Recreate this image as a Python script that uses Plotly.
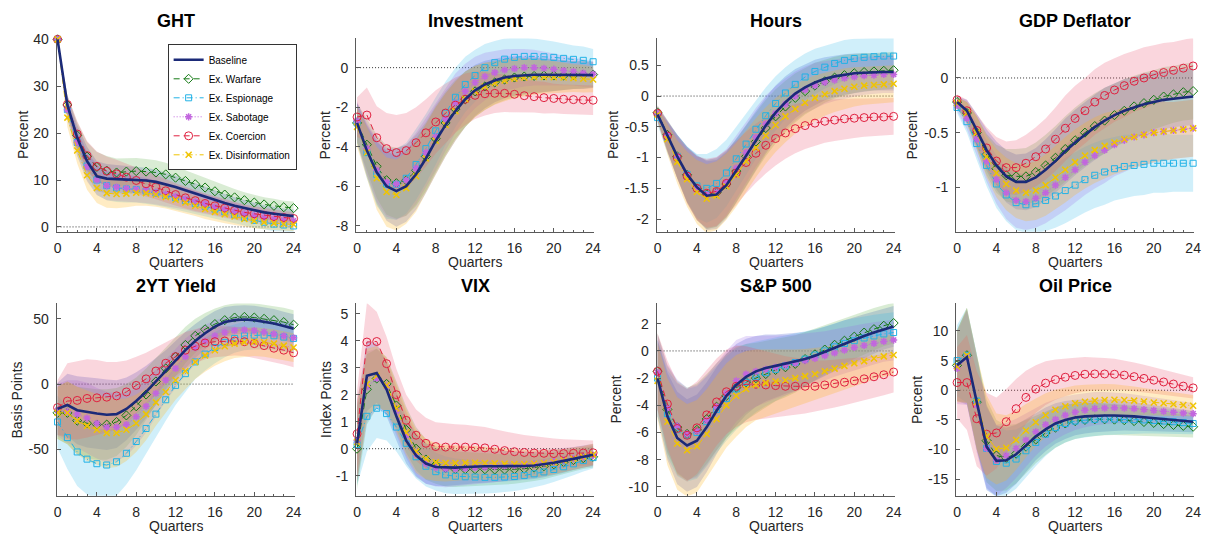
import plotly.graph_objects as go

# ---------------- data ----------------
Q = list(range(25))
SERIES = ["Baseline", "Ex. Warfare", "Ex. Espionage", "Ex. Sabotage", "Ex. Coercion", "Ex. Disinformation"]
X_TICKS = [0, 4, 8, 12, 16, 20, 24]

# GHT
ght_baseline = [40, 26, 19, 14, 10.8, 10.3, 10.2, 10.1, 10.0, 9.9, 9.6, 9.1, 8.5, 7.8, 7.1, 6.4, 5.7, 5.1, 4.5, 4.0, 3.5, 3.1, 2.8, 2.5, 2.3]
ght_warfare = [40, 26, 19.5, 15, 12.8, 12, 11.6, 11.8, 11.9, 11.8, 11.6, 11.2, 10.5, 9.8, 9.1, 8.4, 7.6, 6.9, 6.3, 5.7, 5.2, 4.8, 4.5, 4.2, 4.0]
ght_espionage = [40, 25, 18, 13, 10, 8.8, 8.3, 8.1, 8.0, 7.6, 7.2, 6.7, 6.2, 5.6, 5.0, 4.4, 3.8, 3.2, 2.6, 2.0, 1.4, 1.0, 0.6, 0.4, 0.2]
ght_sabotage = [40, 25, 18, 12.8, 10, 8.8, 8.5, 8.2, 8.0, 7.8, 7.4, 7.0, 6.5, 6.0, 5.4, 4.9, 4.3, 3.8, 3.3, 2.8, 2.4, 2.0, 1.7, 1.5, 1.3]
ght_coercion = [40, 26.1, 19.8, 15.2, 12.9, 11.9, 11.3, 10.6, 9.9, 9.2, 8.5, 7.7, 6.9, 6.2, 5.6, 5.0, 4.5, 4.0, 3.5, 3.1, 2.8, 2.5, 2.2, 2.0, 1.8]
ght_disinformation = [40, 23.3, 16.3, 11, 8.3, 7.2, 7.0, 7.1, 7.3, 7.2, 6.9, 6.4, 5.8, 5.2, 4.5, 3.8, 3.2, 2.7, 2.2, 1.7, 1.3, 1.0, 0.8, 0.6, 0.5]
ght_band = [0, 2.0, 2.8, 3.1, 3.2, 3.1, 3.0, 2.9, 2.8, 2.7, 2.6, 2.5, 2.4, 2.3, 2.2, 2.1, 2.0, 1.9, 1.8, 1.7, 1.6, 1.5, 1.5, 1.4, 1.4]

# Investment
inv_baseline = [-2.8, -4.2, -5.3, -6.0, -6.25, -6.0, -5.4, -4.6, -3.7, -2.9, -2.2, -1.6, -1.15, -0.85, -0.65, -0.5, -0.42, -0.38, -0.36, -0.36, -0.37, -0.38, -0.38, -0.38, -0.38]
inv_warfare = [-2.8, -3.9, -5.0, -5.7, -5.85, -5.7, -5.2, -4.5, -3.6, -2.8, -2.1, -1.6, -1.2, -0.95, -0.75, -0.6, -0.5, -0.45, -0.42, -0.4, -0.4, -0.4, -0.38, -0.36, -0.35]
inv_espionage = [-2.8, -4.3, -5.4, -5.9, -5.9, -5.6, -4.9, -4.1, -3.2, -2.3, -1.5, -0.85, -0.4, 0.0, 0.25, 0.43, 0.52, 0.57, 0.57, 0.55, 0.52, 0.47, 0.42, 0.37, 0.3]
inv_sabotage = [-2.7, -4.1, -5.2, -5.8, -5.9, -5.7, -5.1, -4.3, -3.5, -2.6, -1.8, -1.2, -0.75, -0.45, -0.25, -0.12, -0.05, 0.0, 0.0, -0.03, -0.08, -0.15, -0.2, -0.27, -0.33]
inv_coercion = [-2.5, -2.4, -3.55, -4.1, -4.3, -4.2, -3.8, -3.3, -2.75, -2.3, -1.9, -1.6, -1.4, -1.32, -1.3, -1.3, -1.35, -1.42, -1.47, -1.52, -1.56, -1.6, -1.62, -1.64, -1.65]
inv_disinformation = [-3.0, -4.3, -5.6, -6.3, -6.45, -6.1, -5.5, -4.6, -3.7, -2.9, -2.2, -1.6, -1.2, -0.95, -0.78, -0.65, -0.55, -0.5, -0.47, -0.47, -0.48, -0.5, -0.53, -0.56, -0.6]
inv_band = [1.0, 1.3, 1.6, 1.75, 1.8, 1.8, 1.8, 1.75, 1.7, 1.6, 1.5, 1.4, 1.3, 1.2, 1.1, 1.05, 1.0, 0.95, 0.9, 0.85, 0.8, 0.75, 0.7, 0.7, 0.65]
inv_band_coercion = [1.0, 1.4, 1.6, 1.8, 1.9, 1.9, 1.8, 1.7, 1.6, 1.5, 1.4, 1.3, 1.2, 1.1, 1.0, 0.95, 0.9, 0.85, 0.8, 0.8, 0.75, 0.75, 0.75, 0.75, 0.75]

# Hours
hrs_baseline = [-0.3, -0.65, -0.98, -1.27, -1.48, -1.62, -1.6, -1.45, -1.22, -0.97, -0.72, -0.48, -0.27, -0.1, 0.04, 0.14, 0.22, 0.28, 0.32, 0.35, 0.37, 0.38, 0.39, 0.39, 0.39]
hrs_warfare = [-0.27, -0.63, -0.98, -1.28, -1.5, -1.6, -1.57, -1.43, -1.22, -0.98, -0.74, -0.52, -0.33, -0.17, -0.03, 0.08, 0.17, 0.24, 0.3, 0.34, 0.37, 0.39, 0.4, 0.41, 0.42]
hrs_espionage = [-0.35, -0.67, -0.98, -1.27, -1.46, -1.5, -1.42, -1.25, -1.02, -0.78, -0.54, -0.32, -0.12, 0.05, 0.19, 0.31, 0.4, 0.47, 0.53, 0.58, 0.61, 0.63, 0.64, 0.65, 0.65]
hrs_sabotage = [-0.28, -0.64, -0.98, -1.28, -1.5, -1.6, -1.56, -1.4, -1.17, -0.92, -0.67, -0.45, -0.28, -0.13, 0.0, 0.1, 0.17, 0.22, 0.26, 0.29, 0.31, 0.33, 0.34, 0.35, 0.35]
hrs_coercion = [-0.28, -0.65, -1.0, -1.3, -1.5, -1.58, -1.55, -1.42, -1.25, -1.08, -0.93, -0.8, -0.69, -0.6, -0.53, -0.48, -0.44, -0.41, -0.39, -0.37, -0.36, -0.35, -0.34, -0.34, -0.33]
hrs_disinformation = [-0.3, -0.7, -1.07, -1.35, -1.56, -1.67, -1.62, -1.47, -1.28, -1.06, -0.84, -0.64, -0.47, -0.33, -0.21, -0.11, -0.03, 0.03, 0.08, 0.12, 0.15, 0.17, 0.18, 0.19, 0.2]
hrs_band = [0.12, 0.25, 0.35, 0.45, 0.52, 0.56, 0.56, 0.54, 0.52, 0.5, 0.48, 0.46, 0.44, 0.42, 0.4, 0.38, 0.37, 0.35, 0.34, 0.33, 0.32, 0.31, 0.3, 0.3, 0.3]

# GDP Deflator
gdp_baseline = [-0.22, -0.3, -0.48, -0.66, -0.8, -0.9, -0.95, -0.95, -0.91, -0.84, -0.76, -0.67, -0.59, -0.52, -0.45, -0.39, -0.34, -0.3, -0.27, -0.24, -0.22, -0.2, -0.19, -0.18, -0.17]
gdp_warfare = [-0.22, -0.32, -0.5, -0.7, -0.83, -0.89, -0.9, -0.9, -0.86, -0.8, -0.73, -0.65, -0.57, -0.5, -0.44, -0.39, -0.34, -0.3, -0.26, -0.23, -0.2, -0.17, -0.15, -0.13, -0.12]
gdp_espionage = [-0.27, -0.4, -0.6, -0.8, -0.97, -1.07, -1.14, -1.16, -1.15, -1.12, -1.08, -1.03, -0.98, -0.93, -0.89, -0.86, -0.83, -0.81, -0.8, -0.79, -0.78, -0.78, -0.78, -0.78, -0.78]
gdp_sabotage = [-0.25, -0.37, -0.56, -0.76, -0.93, -1.05, -1.12, -1.13, -1.1, -1.05, -0.98, -0.91, -0.84, -0.77, -0.71, -0.66, -0.61, -0.57, -0.54, -0.52, -0.5, -0.49, -0.48, -0.47, -0.46]
gdp_coercion = [-0.2, -0.3, -0.48, -0.64, -0.76, -0.82, -0.82, -0.78, -0.72, -0.65, -0.56, -0.46, -0.37, -0.3, -0.22, -0.16, -0.11, -0.07, -0.03, 0.0, 0.03, 0.05, 0.07, 0.09, 0.11]
gdp_disinformation = [-0.23, -0.32, -0.5, -0.72, -0.87, -0.97, -1.03, -1.05, -1.03, -0.98, -0.91, -0.84, -0.77, -0.71, -0.66, -0.62, -0.59, -0.56, -0.54, -0.52, -0.5, -0.49, -0.48, -0.47, -0.46]
gdp_band = [0.05, 0.1, 0.15, 0.19, 0.22, 0.24, 0.25, 0.26, 0.27, 0.28, 0.29, 0.3, 0.3, 0.3, 0.3, 0.3, 0.29, 0.29, 0.28, 0.28, 0.27, 0.27, 0.26, 0.26, 0.26]

# 2YT Yield
yld_baseline = [-19, -16, -20, -21.5, -22.5, -23.5, -23, -19, -13, -6, 2, 10, 18, 26, 33, 39, 44, 47.5, 49, 49.5, 49, 48, 46.5, 44.5, 42.5]
yld_warfare = [-22, -22, -28, -30, -31, -31, -29, -24, -17, -8, 2, 12, 21, 30, 37, 42, 46, 49, 51, 51.5, 51, 50, 49, 47.5, 45.5]
yld_espionage = [-29, -41, -52, -57.5, -61, -62, -59.5, -53, -44, -34, -23, -12, -1, 8, 17, 23, 28, 32, 35, 37, 37.5, 37.5, 37, 36, 35]
yld_sabotage = [-20, -21, -23, -26, -30, -33, -33, -31, -25, -17, -7, 3, 12, 21, 28, 33, 37, 39.5, 41, 41.5, 41, 40, 38.5, 37, 35.5]
yld_coercion = [-18, -13, -12.5, -11, -10.5, -10, -9, -6, -1, 4, 10, 16, 21, 26, 29, 31.5, 32.5, 33, 33, 32.5, 31, 29.5, 27.5, 26, 24]
yld_disinformation = [-22, -22, -28, -32, -35, -37.5, -37.5, -35, -30, -23, -14, -6, 3, 10, 17, 22, 26, 29, 31, 32, 32.5, 32, 31, 29.5, 28]
yld_band = [20, 24, 26, 27, 27, 27, 26, 24, 22, 20, 18, 16, 15, 14, 13, 12.5, 12, 11.5, 11, 11, 11, 11, 11, 11, 11]
yld_band_coercion = [21, 29, 30, 30, 29, 27, 26, 24, 22, 20, 18, 16, 15, 14, 13, 12.5, 12, 11.5, 11, 11, 11, 11, 11, 11, 11]

# VIX
vix_baseline = [0.2, 2.7, 2.8, 2.2, 1.2, 0.3, -0.25, -0.55, -0.68, -0.7, -0.7, -0.68, -0.66, -0.65, -0.65, -0.65, -0.65, -0.64, -0.62, -0.58, -0.52, -0.45, -0.37, -0.3, -0.22]
vix_warfare = [0.0, 2.2, 2.6, 2.4, 1.6, 0.7, 0.0, -0.4, -0.6, -0.72, -0.76, -0.76, -0.76, -0.76, -0.77, -0.77, -0.76, -0.74, -0.7, -0.65, -0.58, -0.5, -0.42, -0.35, -0.3]
vix_espionage = [0.15, 1.2, 1.5, 1.3, 0.8, 0.2, -0.3, -0.65, -0.85, -0.97, -1.02, -1.04, -1.05, -1.06, -1.06, -1.05, -1.03, -0.99, -0.93, -0.86, -0.77, -0.67, -0.56, -0.44, -0.33]
vix_sabotage = [0.3, 2.3, 2.6, 2.3, 1.4, 0.5, -0.2, -0.55, -0.7, -0.75, -0.75, -0.73, -0.7, -0.68, -0.66, -0.64, -0.62, -0.6, -0.57, -0.53, -0.48, -0.42, -0.36, -0.3, -0.25]
vix_coercion = [0.55, 3.95, 3.97, 3.15, 2.0, 1.05, 0.5, 0.2, 0.08, 0.06, 0.06, 0.06, 0.05, 0.03, -0.02, -0.07, -0.11, -0.14, -0.16, -0.17, -0.18, -0.18, -0.17, -0.16, -0.15]
vix_disinformation = [0.25, 2.4, 2.7, 2.35, 1.5, 0.6, -0.1, -0.38, -0.5, -0.53, -0.53, -0.52, -0.52, -0.53, -0.54, -0.56, -0.57, -0.57, -0.56, -0.53, -0.49, -0.44, -0.37, -0.3, -0.22]
vix_band = [1.5, 1.3, 1.1, 1.0, 0.9, 0.85, 0.8, 0.75, 0.7, 0.68, 0.66, 0.64, 0.62, 0.6, 0.58, 0.56, 0.54, 0.52, 0.5, 0.48, 0.46, 0.44, 0.42, 0.4, 0.4]
vix_band_coercion = [1.6, 1.45, 1.1, 1.0, 0.95, 0.95, 0.95, 0.95, 0.9, 0.88, 0.85, 0.83, 0.8, 0.77, 0.74, 0.71, 0.68, 0.65, 0.62, 0.59, 0.56, 0.53, 0.5, 0.47, 0.45]

# S&P 500
spx_baseline = [-2.0, -4.8, -6.4, -6.95, -6.6, -5.6, -4.4, -3.3, -2.5, -1.9, -1.5, -1.25, -1.1, -0.95, -0.8, -0.6, -0.35, -0.05, 0.25, 0.55, 0.85, 1.1, 1.35, 1.6, 1.8]
spx_warfare = [-1.5, -4.3, -5.6, -6.1, -5.8, -5.0, -4.1, -3.3, -2.7, -2.3, -2.0, -1.7, -1.4, -1.2, -0.95, -0.6, -0.25, 0.1, 0.45, 0.75, 1.05, 1.35, 1.6, 1.85, 2.05]
spx_espionage = [-2.0, -4.6, -5.8, -6.2, -6.0, -5.2, -4.3, -3.5, -2.8, -2.3, -1.9, -1.6, -1.35, -1.1, -0.85, -0.6, -0.3, 0.0, 0.3, 0.55, 0.75, 0.95, 1.1, 1.25, 1.35]
spx_sabotage = [-1.6, -4.2, -5.5, -6.1, -5.9, -5.1, -4.1, -3.1, -2.2, -1.7, -1.5, -1.35, -1.2, -1.05, -0.9, -0.72, -0.55, -0.35, -0.15, 0.05, 0.25, 0.4, 0.55, 0.7, 0.8]
spx_coercion = [-1.5, -3.9, -5.7, -6.2, -5.65, -4.7, -3.75, -3.0, -2.6, -2.45, -2.45, -2.5, -2.55, -2.6, -2.6, -2.6, -2.6, -2.5, -2.4, -2.3, -2.2, -2.05, -1.9, -1.75, -1.55]
spx_disinformation = [-2.2, -5.2, -6.8, -7.3, -7.0, -6.1, -5.0, -4.0, -3.3, -2.8, -2.5, -2.35, -2.25, -2.15, -2.0, -1.85, -1.7, -1.5, -1.3, -1.1, -0.9, -0.75, -0.55, -0.4, -0.3]
spx_band = [2.8, 3.2, 3.4, 3.4, 3.4, 3.3, 3.2, 3.1, 3.0, 2.8, 2.6, 2.45, 2.3, 2.2, 2.1, 2.0, 1.9, 1.8, 1.75, 1.7, 1.65, 1.6, 1.55, 1.5, 1.5]

# Oil Price
oil_baseline = [4.2, 5.6, -2.0, -9.5, -11.9, -11.8, -10.8, -9.3, -7.8, -6.6, -5.6, -5.0, -4.6, -4.4, -4.3, -4.25, -4.25, -4.3, -4.4, -4.55, -4.7, -4.85, -5.0, -5.15, -5.3]
oil_warfare = [4.2, 5.9, -2.0, -8.5, -11.0, -11.4, -10.7, -9.5, -8.3, -7.2, -6.3, -5.6, -5.2, -5.0, -4.9, -4.9, -4.95, -5.05, -5.2, -5.35, -5.5, -5.7, -5.85, -6.0, -6.15]
oil_espionage = [5.0, 5.9, -1.8, -9.8, -12.0, -12.3, -11.6, -10.2, -8.8, -7.4, -6.3, -5.6, -5.2, -5.0, -4.9, -4.85, -4.85, -4.9, -4.95, -5.0, -5.1, -5.2, -5.3, -5.45, -5.6]
oil_sabotage = [3.7, 5.5, -2.5, -9.8, -11.8, -11.0, -9.8, -8.4, -7.0, -5.8, -4.9, -4.2, -3.7, -3.35, -3.1, -3.0, -2.95, -3.0, -3.1, -3.25, -3.4, -3.55, -3.7, -3.85, -3.95]
oil_coercion = [1.3, 1.3, -4.8, -7.4, -7.2, -5.3, -3.1, -1.2, 0.2, 1.2, 1.8, 2.2, 2.5, 2.7, 2.75, 2.75, 2.7, 2.55, 2.3, 2.0, 1.7, 1.4, 1.05, 0.7, 0.4]
oil_disinformation = [4.0, 5.9, -2.0, -7.8, -9.9, -9.7, -8.4, -6.8, -5.4, -4.2, -3.3, -2.7, -2.2, -1.95, -1.75, -1.65, -1.6, -1.65, -1.75, -1.9, -2.05, -2.2, -2.35, -2.5, -2.6]
oil_band = [6.0, 8.0, 8.0, 7.0, 6.0, 5.5, 5.0, 4.5, 4.0, 3.7, 3.4, 3.2, 3.0, 2.9, 2.8, 2.7, 2.6, 2.5, 2.4, 2.3, 2.2, 2.1, 2.0, 1.9, 1.8]

# y tick values per panel
ght_yticks = [0, 10, 20, 30, 40]
inv_yticks = [-8, -6, -4, -2, 0]
hrs_yticks = [-2, -1.5, -1, -0.5, 0, 0.5]
gdp_yticks = [-1, -0.5, 0]
yld_yticks = [-50, 0, 50]
vix_yticks = [-1, 0, 1, 2, 3, 4, 5]
spx_yticks = [-10, -8, -6, -4, -2, 0, 2]
oil_yticks = [-15, -10, -5, 0, 5, 10]

PANELS = [
    dict(title="GHT", ytitle="Percent", yr=[-1.04, 40.2], yt=ght_yticks,
         lines=[ght_baseline, ght_warfare, ght_espionage, ght_sabotage, ght_coercion, ght_disinformation],
         bands=[ght_band] * 6, ytx=20),
    dict(title="Investment", ytitle="Percent", yr=[-8.31, 1.48], yt=inv_yticks,
         lines=[inv_baseline, inv_warfare, inv_espionage, inv_sabotage, inv_coercion, inv_disinformation],
         bands=[inv_band, inv_band, inv_band, inv_band, inv_band_coercion, inv_band], ytx=325),
    dict(title="Hours", ytitle="Percent", yr=[-2.206, 0.937], yt=hrs_yticks,
         lines=[hrs_baseline, hrs_warfare, hrs_espionage, hrs_sabotage, hrs_coercion, hrs_disinformation],
         bands=[hrs_band] * 6, ytx=615),
    dict(title="GDP Deflator", ytitle="Percent", yr=[-1.407, 0.362], yt=gdp_yticks,
         lines=[gdp_baseline, gdp_warfare, gdp_espionage, gdp_sabotage, gdp_coercion, gdp_disinformation],
         bands=[gdp_band] * 6, ytx=917),
    dict(title="2YT Yield", ytitle="Basis Points", yr=[-85.6, 61.8], yt=yld_yticks,
         lines=[yld_baseline, yld_warfare, yld_espionage, yld_sabotage, yld_coercion, yld_disinformation],
         bands=[yld_band, yld_band, yld_band, yld_band, yld_band_coercion, yld_band], ytx=14),
    dict(title="VIX", ytitle="Index Points", yr=[-1.745, 5.38], yt=vix_yticks,
         lines=[vix_baseline, vix_warfare, vix_espionage, vix_sabotage, vix_coercion, vix_disinformation],
         bands=[vix_band, vix_band, vix_band, vix_band, vix_band_coercion, vix_band], ytx=325),
    dict(title="S&P 500", ytitle="Percent", yr=[-10.65, 3.49], yt=spx_yticks,
         lines=[spx_baseline, spx_warfare, spx_espionage, spx_sabotage, spx_coercion, spx_disinformation],
         bands=[spx_band] * 6, ytx=618),
    dict(title="Oil Price", ytitle="Percent", yr=[-17.8, 14.64], yt=oil_yticks,
         lines=[oil_baseline, oil_warfare, oil_espionage, oil_sabotage, oil_coercion, oil_disinformation],
         bands=[oil_band] * 6, ytx=921),
]

# ---------------- styles ----------------
W, H = 1216, 543
FONT = "Liberation Sans, Arial, sans-serif"
AX = "#5a5a5a"
TXT = "#262626"
COL_X = [(54, 294), (356, 596), (659, 899), (961, 1201)]
ROW_Y = [(32, 229), (302, 498)]

STYLE = {
    "Baseline":           dict(color="#1b2a78", dash="solid", width=2.6, symbol=None, size=0, band="rgba(60,80,205,0.24)"),
    "Ex. Warfare":        dict(color="#147a14", dash="6px,4px", width=1, symbol="diamond-open", size=7, band="rgba(80,170,60,0.22)"),
    "Ex. Espionage":      dict(color="#22b2e6", dash="6px,3px,1px,3px", width=1, symbol="square-open", size=6, band="rgba(40,180,230,0.22)"),
    "Ex. Sabotage":       dict(color="#c266de", dash="1px,2px", width=1, symbol="asterisk-open", size=6, band="rgba(150,100,230,0.22)"),
    "Ex. Coercion":       dict(color="#e0203f", dash="6px,4px", width=1, symbol="circle-open", size=8, band="rgba(232,70,100,0.22)"),
    "Ex. Disinformation": dict(color="#f0c400", dash="6px,3px,1px,3px", width=1, symbol="x-thin-open", size=6, band="rgba(255,180,20,0.25)"),
}

fig = go.Figure()
layout = dict(width=W, height=H, margin=dict(l=0, r=0, t=0, b=0),
              paper_bgcolor="white", plot_bgcolor="white",
              font=dict(family=FONT, color=TXT), showlegend=True)
annotations = []
shapes = []

for i, p in enumerate(PANELS):
    r, c = divmod(i, 4)
    n = "" if i == 0 else str(i + 1)
    xref, yref = "x" + n, "y" + n
    x0, x1 = COL_X[c]
    ytop, ybot = ROW_Y[r]
    layout["xaxis" + n] = dict(
        domain=[x0 / W, x1 / W], anchor=yref, range=[-0.1, 24.1],
        tickvals=X_TICKS, ticktext=[str(v) for v in X_TICKS],
        ticks="inside", ticklen=4, tickcolor=AX, showline=True, linecolor=AX, linewidth=1,
        showgrid=False, zeroline=False, fixedrange=True,
        minor=dict(tick0=0, dtick=1, ticks="inside", ticklen=2, tickcolor=AX, showgrid=False),
        tickfont=dict(size=14, color=TXT, family=FONT), ticklabelstandoff=3)
    layout["yaxis" + n] = dict(
        domain=[1 - ybot / H, 1 - ytop / H], anchor=xref, range=p["yr"],
        tickvals=p["yt"], ticktext=["%g" % v for v in p["yt"]],
        ticks="inside", ticklen=4, tickcolor=AX, showline=True, linecolor=AX, linewidth=1,
        showgrid=False, zeroline=False, fixedrange=True,
        tickfont=dict(size=14, color=TXT, family=FONT), ticklabelstandoff=4)

    # bands
    for s, line, band in zip(SERIES, p["lines"], p["bands"]):
        upper = [v + b for v, b in zip(line, band)]
        lower = [v - b for v, b in zip(line, band)]
        fig.add_trace(go.Scatter(x=Q + Q[::-1], y=upper + lower[::-1], fill="toself",
                                 fillcolor=STYLE[s]["band"], line=dict(width=0),
                                 mode="lines", hoverinfo="skip", showlegend=False,
                                 xaxis=xref, yaxis=yref))
    # lines (baseline last, on top)
    order = [1, 2, 3, 4, 5, 0]
    for k in order:
        s = SERIES[k]
        st = STYLE[s]
        if st["symbol"] is None:
            tr = go.Scatter(x=Q, y=p["lines"][k], mode="lines", name=s,
                            line=dict(color=st["color"], width=st["width"]))
        else:
            tr = go.Scatter(x=Q, y=p["lines"][k], mode="lines+markers", name=s,
                            line=dict(color=st["color"], width=st["width"], dash=st["dash"]),
                            marker=dict(symbol=st["symbol"], size=st["size"], color=st["color"],
                                        line=dict(color=st["color"], width=1.5 if "asterisk" in st["symbol"] or "x-thin" in st["symbol"] else 1)))
        tr.update(xaxis=xref, yaxis=yref, showlegend=(i == 0), legendrank=k + 1,
                  cliponaxis=False, legendgroup=s)
        fig.add_trace(tr)

    # zero reference line
    shapes.append(dict(type="line", xref=xref, yref=yref, x0=0, x1=24, y0=0, y1=0,
                       line=dict(color="#333333", width=1, dash="1px,2px"), layer="below"))

    xc = (x0 + x1) / 2
    annotations.append(dict(text="<b>%s</b>" % p["title"].replace("&", "&amp;"), x=xc / W, y=1 - (ytop - 17.5) / H,
                            xref="paper", yref="paper", showarrow=False, xanchor="center", yanchor="middle",
                            font=dict(size=18, color="black", family=FONT)))
    annotations.append(dict(text="Quarters", x=xc / W, y=1 - (ybot + 31) / H,
                            xref="paper", yref="paper", showarrow=False, xanchor="center", yanchor="middle",
                            font=dict(size=14, color=TXT, family=FONT)))
    annotations.append(dict(text=p["ytitle"], x=p["ytx"] / W, y=1 - ((ytop + ybot) / 2) / H,
                            xref="paper", yref="paper", showarrow=False, xanchor="center", yanchor="middle",
                            textangle=-90, font=dict(size=14, color=TXT, family=FONT)))

layout["annotations"] = annotations
layout["shapes"] = shapes
layout["legend"] = dict(x=166 / W, y=1 - 38 / H, xanchor="left", yanchor="top",
                        bgcolor="white", bordercolor="#333333", borderwidth=1,
                        font=dict(size=10, color="black", family=FONT),
                        itemwidth=30, tracegroupgap=0)
fig.update_layout(**layout)
fig.write_html("out.html")
